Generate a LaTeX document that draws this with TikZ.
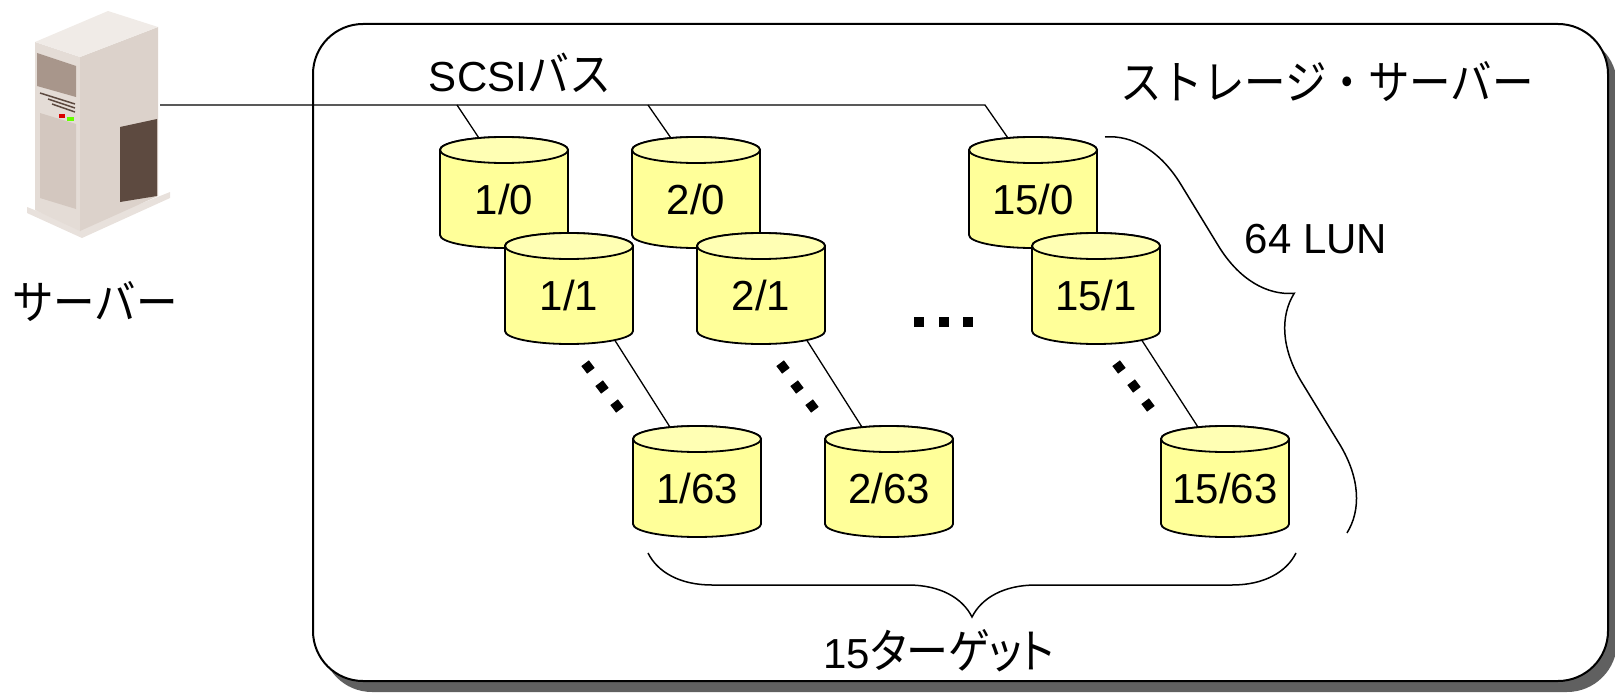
\documentclass[tikz,border=0pt]{standalone}
\usepackage{fontspec}
\setmainfont{Liberation Sans}
\newfontfamily\cjk{Noto Sans CJK JP}
\newfontfamily\cjkp[RawFeature=+palt]{Noto Sans CJK JP}
\usetikzlibrary{calc,decorations.pathreplacing,shadows}
\definecolor{cylbodyc}{HTML}{FFFF99}
\definecolor{cyltopc}{HTML}{FFFFB4}
\definecolor{shadowc}{HTML}{606060}
\definecolor{srvtopc}{HTML}{F0EBE7}
\definecolor{srvfrontc}{HTML}{E4DCD6}
\definecolor{srvsidec}{HTML}{DCD2CB}
\definecolor{srvpanelc}{HTML}{A8968B}
\definecolor{srvventc}{HTML}{5D4A40}
\definecolor{srvlowc}{HTML}{D3C7BF}
\definecolor{srvbasec}{HTML}{E8E1DC}
\tikzset{
  cylbody/.style={fill=cylbodyc, draw=black, line width=1.8pt},
  cyltop/.style={fill=cyltopc, draw=black, line width=1.8pt},
  cyllabel/.style={minimum width=128pt, minimum height=111pt, inner sep=0pt,
    text height=43pt, text depth=0pt, font=\fontsize{42pt}{50pt}\selectfont},
  wire/.style={draw=black, line width=1.3pt},
  dotsq/.style={fill=black, minimum size=9.5pt, inner sep=0pt},
  bracelr/.style={draw=black, line width=1.5pt, decorate, decoration={brace, amplitude=#1}},
  latin/.style={inner sep=0pt, font=\fontsize{42pt}{50pt}\selectfont},
  jp/.style={inner sep=0pt, font=\fontsize{41.5pt}{50pt}\selectfont\cjk},
  storagebox/.style={draw=black, line width=2pt, fill=white, rounded corners=50pt,
    drop shadow={shadow xshift=9pt, shadow yshift=-11pt, fill=shadowc, opacity=1}},
}
\newcommand\mkcyl[4]{%
  \path[cylbody] (#2,#3+13) -- (#2,#3+98)
    arc[start angle=180, end angle=360, x radius=64pt, y radius=13pt]
    -- (#2+128,#3+13)
    arc[start angle=0, end angle=180, x radius=64pt, y radius=13pt] -- cycle;
  \path[cyltop] (#2+64,#3+13) ellipse[x radius=64pt, y radius=13pt];
  \node[cyllabel] (#1) at (#2+64,#3+55.5) {#4};
}
\newcommand\tallkana[1]{\scalebox{1}[1.12]{#1}}
\begin{document}
\begin{tikzpicture}[x=1pt,y=-1pt]
\useasboundingbox (0,0) rectangle (1615,693);
\clip (0,0) rectangle (1615,693);

% storage server box
\node[storagebox, minimum width=1295pt, minimum height=657pt, inner sep=0pt] (storage) at (960.5,352.5) {};

% server icon
\node[minimum width=145pt, minimum height=230pt, inner sep=0pt] (server) at (98,124) {};
\fill[srvbasec] (27,207) -- (80,228) -- (170,192) -- (170,198) -- (82,238) -- (27,213) -- cycle;
\fill[srvfrontc] (35,42) -- (80,57) -- (80,231) -- (35,210) -- cycle;
\fill[srvsidec] (80,57) -- (158,27) -- (158,196) -- (80,231) -- cycle;
\fill[srvtopc] (35,42) -- (108,11) -- (158,27) -- (80,57) -- cycle;
\fill[srvpanelc] (37,53) -- (76,66) -- (76,97) -- (37,86) -- cycle;
\draw[srvventc, line width=1.5pt] (40,93) -- (75,104) (48,99) -- (75,108) (52,104) -- (75,112);
\fill[red!85!black] (59,114) rectangle (65,118);
\fill[green!60!yellow] (67,117) rectangle (74,121);
\fill[srvlowc] (40,113) -- (76,124) -- (76,209) -- (40,198) -- cycle;
\fill[srvventc] (120,127) -- (157,119) -- (157,196) -- (120,202) -- cycle;
\coordinate (srvport) at (160,105);

% cylinders
\mkcyl{c10}{440}{137}{1/0}
\mkcyl{c20}{632}{137}{2/0}
\mkcyl{c150}{969}{137}{15/0}
\mkcyl{c11}{505}{233}{1/1}
\mkcyl{c21}{697}{233}{2/1}
\mkcyl{c151}{1032}{233}{15/1}
\mkcyl{c163}{633}{426}{1/63}
\mkcyl{c263}{825}{426}{2/63}
\mkcyl{c1563}{1161}{426}{15/63}

% SCSI bus
\coordinate (j1) at (457,105);
\coordinate (j2) at (648,105);
\coordinate (j15) at (985,105);
\draw[wire] (srvport) -- (j15) -- ($(c150.north west)+(39,1)$);
\draw[wire] (j1) -- ($(c10.north west)+(39,1)$);
\draw[wire] (j2) -- ($(c20.north west)+(39,1)$);
\draw[wire] ($(c11.south west)+(110,-4)$) -- ($(c163.north west)+(37,1)$);
\draw[wire] ($(c21.south west)+(110,-4)$) -- ($(c263.north west)+(37,1)$);
\draw[wire] ($(c151.south west)+(110,-4)$) -- ($(c1563.north west)+(37,1)$);

% dots
\node[dotsq, rotate=-53] (da1) at (588,367) {};
\node[dotsq, rotate=-53] (da2) at (602,387) {};
\node[dotsq, rotate=-53] (da3) at (617,406) {};
\node[dotsq, rotate=-53] (db1) at (783,367) {};
\node[dotsq, rotate=-53] (db2) at (797,387) {};
\node[dotsq, rotate=-53] (db3) at (812,406) {};
\node[dotsq, rotate=-53] (dc1) at (1119,367) {};
\node[dotsq, rotate=-53] (dc2) at (1134,386) {};
\node[dotsq, rotate=-53] (dc3) at (1148,405) {};
\node[dotsq] (dh1) at (919,322) {};
\node[dotsq] (dh2) at (944,322) {};
\node[dotsq] (dh3) at (968,322) {};

% braces
\coordinate (br1a) at (1105,137);
\coordinate (br1b) at (1347,533);
\draw[bracelr=80pt] (br1a) -- (br1b);
\coordinate (br2a) at (1296,553);
\coordinate (br2b) at (648,553);
\draw[bracelr=64pt] (br2a) -- (br2b);

% labels
\node[jp] (lblsrv) at (95,302) {\tallkana{サーバー}};
\node[jp] (lblstor) at (1327,82) {\tallkana{ストレージ・サーバー}};
\node[latin, anchor=base] (lblbus) at (520,92) {SCSI{\cjk\tallkana{バス}}};
\node[latin, anchor=base] (lbllun) at (1316,253) {64 LUN};
\node[latin, anchor=base] (lbltgt) at (939,668) {15{\cjkp\tallkana{ターゲット}}};
\end{tikzpicture}
\end{document}
